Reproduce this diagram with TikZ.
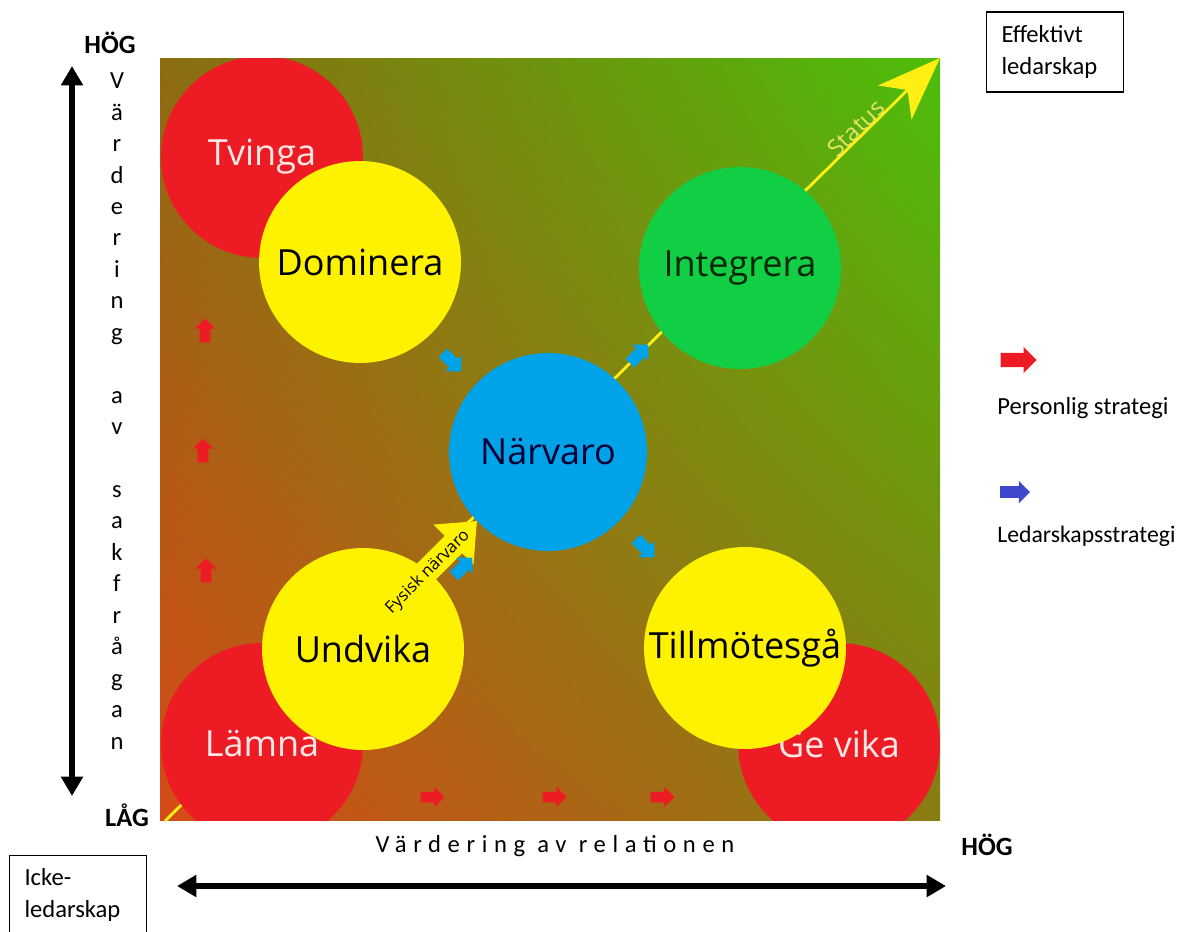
\documentclass[tikz,border=0pt]{standalone}
\usepackage{fontspec}
\setmainfont{Carlito}
\newfontfamily\circfont{Open Sans}
\usepackage{tikz}
\usetikzlibrary{arrows.meta,shapes.arrows,shadings,positioning}
\definecolor{cRed}{RGB}{237,28,36}
\definecolor{cYellow}{RGB}{255,242,0}
\definecolor{cGreen}{RGB}{18,206,68}
\definecolor{cBlue}{RGB}{0,162,232}
\definecolor{legBlue}{RGB}{63,72,204}
\definecolor{bgLL}{RGB}{214,74,24}
\definecolor{bgUR}{RGB}{76,190,10}
\definecolor{bgUL}{RGB}{140,108,18}
\definecolor{bgLR}{RGB}{136,124,18}
\definecolor{statusYellow}{RGB}{255,240,20}
\definecolor{statusText}{RGB}{232,226,110}
\definecolor{paleText}{RGB}{253,232,232}
\tikzset{
  axis/.style={<->,line width=3.4pt,>={Triangle[length=11pt,width=12pt]}},
  statusline/.style={->,line width=1.6pt,draw=statusYellow,>={Stealth[length=36pt,width=27pt,inset=10pt]}},
  fysisk/.style={-{Triangle[length=19pt,width=31pt]},line width=14pt,draw=cYellow},
}

\begin{document}
\begin{tikzpicture}[x=0.02cm,y=-0.02cm,
        circ/.style={circle, inner sep=0pt, minimum size=4.04cm,
        font={\circfont\fontsize{20.5}{24}\selectfont}},
        redcirc/.style={circ, fill=cRed, text=paleText},
        yelcirc/.style={circ, fill=cYellow, text=black},
        smallarrow/.style={single arrow, draw=none, minimum height=0.48cm, inner sep=2.8pt,
        single arrow head extend=2.8pt},
        redarrow/.style={smallarrow, fill=cRed},
        bluearrow/.style={smallarrow, fill=cBlue, minimum height=0.52cm, inner sep=3.3pt,
        single arrow head extend=3pt},
        legtext/.style={anchor=west, inner sep=0pt, font={\fontsize{14}{17}\selectfont}},
        labelbox/.style={draw=black, line width=0.6pt, text width=2.14cm, inner xsep=0.3cm,
        minimum height=1.6cm, align=left, font={\fontsize{14}{18.5}\selectfont}},
        endlabel/.style={font={\bfseries\fontsize{15}{17}\selectfont}}
        ]
    \useasboundingbox (0,0) rectangle (1185,931);

    % bakgrund
    \shade[lower left=bgLL, upper right=bgUR, upper left=bgUL, lower right=bgLR]
        (160,58) rectangle (940,820);

    \node[redarrow, rotate=90] (up1) at (205,333) {};
    \node[redarrow, rotate=90] (up2) at (203,453) {};
    \node[redarrow, rotate=90] (up3) at (206,573) {};
    \node[redarrow] (right1) at (430,797) {};
    \node[redarrow] (right2) at (552,797) {};
    \node[redarrow] (right3) at (660,797) {};

    \coordinate (origin) at (165,821);
    \coordinate (statustip) at (940,58);
    \draw[statusline] (origin) -- (statustip);
    \node[rotate=44.5, text=statusText, font={\circfont\fontsize{13.5}{14}\selectfont}]
        (status) at (856,128) {Status};

    \begin{scope}
        \clip (160,58) rectangle (940,820);
        \node[redcirc] (tvinga) at (262,157) {Tvinga};
        \node[yelcirc] (dominera) at (360,262) {Dominera};
        \node[redcirc] (lamna) at (262,744) {Lämna};
        \node[yelcirc] (undvika) at (363,649) {Undvika};
        \node[redcirc] (gevika) at (839,744) {Ge vika};
        \node[yelcirc] (tillmotesga) at (745,648) {Tillmötesgå};
        \node[circ, fill=cGreen, text={black!85!green}] (integrera) at (740,268) {Integrera};
        \node[circ, fill=cBlue, minimum size=3.96cm, text={black!80!blue}] (narvaro) at (548,452) {Närvaro};
    \end{scope}

    \coordinate (fysiskstart) at (392,606);
    \coordinate (fysisktip) at (477,521);
    \draw[fysisk] (fysiskstart) -- (fysisktip);
    \node[rotate=45, font={\circfont\fontsize{9.5}{10}\selectfont}] (fysisklbl) at (428,572) {Fysisk närvaro};

    \node[bluearrow, rotate=-45] (b1) at (450,360) {};
    \node[bluearrow, rotate=45] (b2) at (637,356) {};
    \node[bluearrow, rotate=-45] (b3) at (643,546) {};
    \node[bluearrow, rotate=45] (b4) at (461,569) {};

    % axlar
    \coordinate (vbot) at (72,796);
    \coordinate (vtop) at (72,66);
    \draw[axis] (vbot) -- (vtop);
    \coordinate (hleft) at (177,886);
    \coordinate (hright) at (946,886);
    \draw[axis] (hleft) -- (hright);

    \node[endlabel] (hogv) at (110,43) {HÖG};
    \node[endlabel] (lag) at (127,815) {LÅG};
    \node[endlabel] (hogh) at (987,845) {HÖG};

    \node[align=center, font={\fontsize{14}{17.9}\selectfont}] (sakfragan) at (117,411)
        {V\\ä\\r\\d\\e\\r\\i\\n\\g\\[17.9pt]a\\v\\[17.9pt]s\\a\\k\\f\\r\\å\\g\\a\\n};
    \node[font={\fontsize{14}{17}\selectfont\addfontfeature{LetterSpace=27}}] (relationen) at (555,846)
        {Värdering av relationen};

    \node[labelbox] (effektivt) at (1055,52) {Effektivt\\ledarskap};
    \node[labelbox] (icke) at (78,895) {Icke-\\ledarskap};

    % legend
    \node[single arrow, fill=cRed, minimum height=0.72cm, inner sep=3.8pt,
        single arrow head extend=3.4pt] (legred) at (1015,360) {};
    \node[legtext] (legredtxt) at (997,408) {Personlig strategi};
    \node[single arrow, fill=legBlue, minimum height=0.6cm, inner sep=3.2pt,
        single arrow head extend=3pt] (legblue) at (1012,492) {};
    \node[legtext, font={\fontsize{13.5}{17}\selectfont}] (legbluetxt) at (997,536) {Ledarskapsstrategi};

\end{tikzpicture}
\end{document}
